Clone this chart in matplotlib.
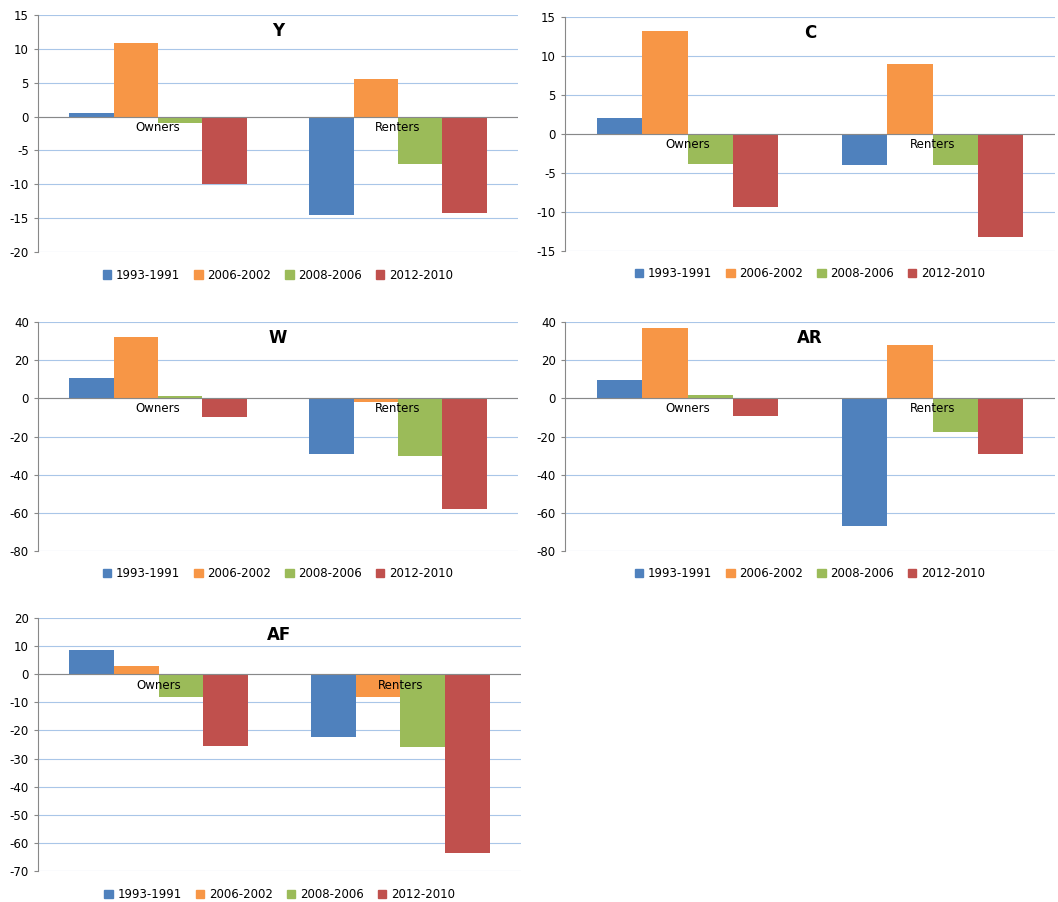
import matplotlib
matplotlib.use("Agg")
import matplotlib.pyplot as plt
import numpy as np
from matplotlib.patches import Patch

plt.rcParams['axes.unicode_minus'] = False

series = ["1993-1991", "2006-2002", "2008-2006", "2012-2010"]
colors = ["#4f81bd", "#f79646", "#9bbb59", "#c0504d"]
groups = ["Owners", "Renters"]

Y_vals = [[0.6, -14.5], [10.9, 5.6], [-0.9, -7.0], [-9.9, -14.2]]
C_vals = [[2.0, -4.0], [13.2, 9.0], [-3.8, -4.0], [-9.3, -13.2]]
W_vals = [[10.5, -29.3], [32, -2], [1, -30], [-10, -58]]
AR_vals = [[9.5, -67], [37, 28], [1.5, -17.5], [-9, -29]]
AF_vals = [[8.5, -22.4], [2.8, -8.2], [-8.2, -26], [-25.6, -63.7]]

W_, H_ = 1058, 902
fig = plt.figure(figsize=(W_/100, H_/100), dpi=100)

panels = [
    ("Y", Y_vals, (38, 15, 518, 252), (-20, 15, 5)),
    ("C", C_vals, (565, 17, 1055, 251), (-15, 15, 5)),
    ("W", W_vals, (38, 322, 518, 551), (-80, 40, 20)),
    ("AR", AR_vals, (565, 322, 1055, 551), (-80, 40, 20)),
    ("AF", AF_vals, (38, 618, 521, 871), (-70, 20, 10)),
]

for title, vals, (l, t, r, b), (lo, hi, st) in panels:
    ax = fig.add_axes([l/W_, 1-b/H_, (r-l)/W_, (b-t)/H_])
    x = np.arange(len(groups))
    bw = 0.185
    for i, (s, c) in enumerate(zip(series, colors)):
        ax.bar(x + (i-1.5)*bw, vals[i], bw, color=c, zorder=3)
    ax.set_xlim(-0.5, 1.5)
    ax.set_ylim(lo, hi)
    ax.set_yticks(np.arange(lo, hi+0.1, st))
    ax.tick_params(axis='y', labelsize=8.5, length=3, color='#888888')
    ax.set_xticks([])
    ax.grid(axis='y', color='#a9c6e8', lw=0.8, zorder=0)
    ax.axhline(0, color='#888888', lw=0.8, zorder=4)
    for sp in ['top', 'right', 'bottom']:
        ax.spines[sp].set_visible(False)
    ax.spines['left'].set_color('#888888')
    yoff = (hi-lo)*0.045
    for xi, g in zip(x, groups):
        ax.text(xi, -yoff, g, ha='center', va='center', fontsize=8.5, zorder=5)
    ax.text(0.5, 0.97, title, transform=ax.transAxes, ha='center', va='top',
            fontsize=12, fontweight='bold')
    handles = [Patch(color=c, label=s) for s, c in zip(series, colors)]
    ax.legend(handles=handles, loc='upper center', bbox_to_anchor=(0.5, -0.025),
              ncol=4, frameon=False, fontsize=8.5, handlelength=0.7,
              handleheight=0.7, columnspacing=1.2, handletextpad=0.4)

fig.savefig("out.png", dpi=100)
